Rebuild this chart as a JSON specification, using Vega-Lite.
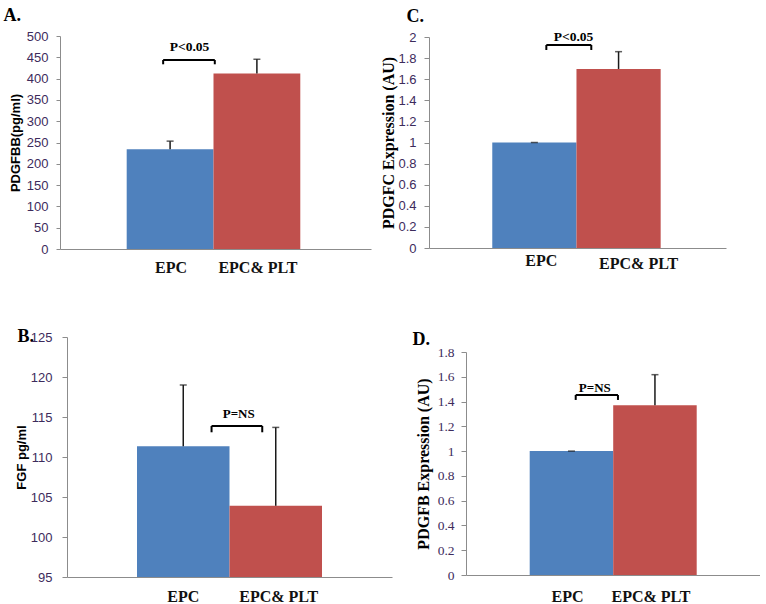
{
  "$schema": "https://vega.github.io/schema/vega-lite/v6.json",
  "background": "white",
  "padding": {"left": 3, "top": 6, "right": 0, "bottom": 0},
  "config": {"view": {"stroke": null}, "axis": {"grid": false, "labelOverlap": false}},
  "datasets": {
    "a": [{"group": "EPC", "value": 234.4, "upper": 253.2}, {"group": "EPC& PLT", "value": 411.9, "upper": 445.4}],
    "aBr": [{"from": "EPC", "to": "EPC& PLT", "y": 443.7, "y0": 433.6, "ty": 465.5, "label": "P<0.05"}],
    "c": [{"group": "EPC", "value": 1.0, "upper": 1.0}, {"group": "EPC& PLT", "value": 1.697, "upper": 1.861}],
    "cBr": [{"from": "EPC", "to": "EPC& PLT", "y": 1.924, "y0": 1.877, "ty": 1.965, "label": "P<0.05"}],
    "b": [{"group": "EPC", "value": 111.34, "upper": 119.0}, {"group": "EPC& PLT", "value": 103.9, "upper": 113.7}],
    "bBr": [{"from": "EPC", "to": "EPC& PLT", "y": 113.88, "y0": 113.09, "ty": 114.91, "label": "P=NS"}],
    "d": [{"group": "EPC", "value": 1.0, "upper": 1.0}, {"group": "EPC& PLT", "value": 1.37, "upper": 1.617}],
    "dBr": [{"from": "EPC", "to": "EPC& PLT", "y": 1.453, "y0": 1.413, "ty": 1.48, "label": "P=NS"}]
  },
  "vconcat": [
    {
      "hconcat": [
        {
          "width": 304, "height": 213,
          "layer": [
            {
              "data": {"name": "a"},
              "mark": {"type": "bar"},
              "encoding": {
                "x": {"field": "group", "type": "nominal",
                  "scale": {"domain": ["EPC", "EPC& PLT"], "range": [-7, 304], "paddingInner": 0, "paddingOuter": 0.7915, "align": 0.4854},
                  "axis": {"title": "A.", "titleX": -64, "titleY": -229, "titleAlign": "left", "titleBaseline": "alphabetic", "titleFont": "Liberation Serif", "titleFontSize": 18, "titleFontWeight": "bold", "titleColor": "#000",
                    "labelAngle": 0, "labelFont": "Liberation Serif", "labelFontSize": 16, "labelFontWeight": "bold", "labelColor": "#111", "labelPadding": 10, "labelOffset": 1, "labelOverlap": false,
                    "ticks": false, "tickSize": 0, "domainColor": "#8c8c8c", "domainWidth": 1}},
                "y": {"field": "value", "type": "quantitative",
                  "scale": {"domain": [0, 500], "nice": false},
                  "axis": {"title": "PDGFBB(pg/ml)", "offset": 7, "titleFont": "Liberation Sans", "titleFontSize": 13, "titleFontWeight": "bold", "titleColor": "#000", "titlePadding": 4, "minExtent": 34, "maxExtent": 34,
                    "values": [0, 50, 100, 150, 200, 250, 300, 350, 400, 450, 500], "tickCount": 20, "labelOverlap": false,
                    "labelFont": "Liberation Sans", "labelFontSize": 13, "labelColor": "#3d2b5c", "labelPadding": 8, "tickSize": 4, "tickColor": "#8c8c8c", "domainColor": "#8c8c8c"}},
                "color": {"field": "group", "type": "nominal", "scale": {"domain": ["EPC", "EPC& PLT"], "range": ["#4F81BD", "#C0504D"]}, "legend": null}
              }
            },
            {
              "data": {"name": "a"},
              "mark": {"type": "rule", "color": "#1a1a1a", "strokeWidth": 1.5},
              "encoding": {"x": {"field": "group", "type": "nominal"}, "y": {"field": "value", "type": "quantitative"}, "y2": {"field": "upper"}}
            },
            {
              "data": {"name": "a"},
              "mark": {"type": "tick", "color": "#1a1a1a", "size": 7, "thickness": 1.5},
              "encoding": {"x": {"field": "group", "type": "nominal"}, "y": {"field": "upper", "type": "quantitative"}}
            },
            {
              "data": {"name": "aBr"},
              "mark": {"type": "rule", "color": "#000", "strokeWidth": 2},
              "encoding": {"x": {"field": "from", "type": "nominal", "bandPosition": 0.42}, "x2": {"field": "to", "bandPosition": 0.015}, "y": {"field": "y", "type": "quantitative"}}
            },
            {
              "data": {"name": "aBr"},
              "mark": {"type": "rule", "color": "#000", "strokeWidth": 2},
              "encoding": {"x": {"field": "from", "type": "nominal", "bandPosition": 0.42}, "y": {"field": "y0", "type": "quantitative"}, "y2": {"field": "y"}}
            },
            {
              "data": {"name": "aBr"},
              "mark": {"type": "rule", "color": "#000", "strokeWidth": 2},
              "encoding": {"x": {"field": "to", "type": "nominal", "bandPosition": 0.015}, "y": {"field": "y0", "type": "quantitative"}, "y2": {"field": "y"}}
            },
            {
              "data": {"name": "aBr"},
              "mark": {"type": "text", "font": "Liberation Serif", "fontSize": 13.5, "fontWeight": "bold", "color": "#000", "baseline": "alphabetic", "align": "center"},
              "encoding": {"x": {"field": "from", "type": "nominal", "bandPosition": 0.724}, "y": {"field": "ty", "type": "quantitative"}, "text": {"field": "label"}}
            }
          ]
        },
        {
          "width": 297, "height": 212,
          "layer": [
            {
              "data": {"name": "c"},
              "mark": {"type": "bar"},
              "encoding": {
                "x": {"field": "group", "type": "nominal",
                  "scale": {"domain": ["EPC", "EPC& PLT"], "paddingInner": 0, "paddingOuter": 0.7637, "align": 0.492},
                  "axis": {"title": "C.", "titleX": -23, "titleY": -226.3, "titleAlign": "left", "titleBaseline": "alphabetic", "titleFont": "Liberation Serif", "titleFontSize": 18, "titleFontWeight": "bold", "titleColor": "#000",
                    "labelAngle": 0, "labelFont": "Liberation Serif", "labelFontSize": 16, "labelFontWeight": "bold", "labelColor": "#111",
                    "labelPadding": {"condition": {"test": "datum.value == 'EPC'", "value": 4}, "value": 7},
                    "labelOffset": {"condition": {"test": "datum.value == 'EPC'", "value": 7}, "value": 20},
                    "labelOverlap": false,
                    "ticks": false, "tickSize": 0, "domainColor": "#8c8c8c", "domainWidth": 1}},
                "y": {"field": "value", "type": "quantitative",
                  "scale": {"domain": [0, 2], "nice": false, "range": [212, 1]},
                  "axis": {"title": "PDGFC  Expression (AU)", "titleFont": "Liberation Serif", "titleFontSize": 16, "titleFontWeight": "bold", "titleColor": "#000", "titlePadding": 2, "minExtent": 31, "maxExtent": 31,
                    "values": [0, 0.2, 0.4, 0.6, 0.8, 1, 1.2, 1.4, 1.6, 1.8, 2], "tickCount": 20, "format": "~g", "labelOverlap": false,
                    "labelFont": "Liberation Sans", "labelFontSize": 13, "labelColor": "#3d2b5c", "labelPadding": 8, "tickSize": 5, "tickColor": "#8c8c8c", "domainColor": "#8c8c8c"}},
                "color": {"field": "group", "type": "nominal", "scale": {"domain": ["EPC", "EPC& PLT"], "range": ["#4F81BD", "#C0504D"]}, "legend": null}
              }
            },
            {
              "data": {"name": "c"},
              "mark": {"type": "rule", "color": "#1a1a1a", "strokeWidth": 1.5},
              "encoding": {"x": {"field": "group", "type": "nominal"}, "y": {"field": "value", "type": "quantitative"}, "y2": {"field": "upper"}}
            },
            {
              "data": {"name": "c"},
              "mark": {"type": "tick", "color": "#1a1a1a", "size": 7, "thickness": 1.5},
              "encoding": {"x": {"field": "group", "type": "nominal"}, "y": {"field": "upper", "type": "quantitative"}}
            },
            {
              "data": {"name": "cBr"},
              "mark": {"type": "rule", "color": "#000", "strokeWidth": 2},
              "encoding": {"x": {"field": "from", "type": "nominal", "bandPosition": 0.642}, "x2": {"field": "to", "bandPosition": 0.176}, "y": {"field": "y", "type": "quantitative"}}
            },
            {
              "data": {"name": "cBr"},
              "mark": {"type": "rule", "color": "#000", "strokeWidth": 2},
              "encoding": {"x": {"field": "from", "type": "nominal", "bandPosition": 0.642}, "y": {"field": "y0", "type": "quantitative"}, "y2": {"field": "y"}}
            },
            {
              "data": {"name": "cBr"},
              "mark": {"type": "rule", "color": "#000", "strokeWidth": 2},
              "encoding": {"x": {"field": "to", "type": "nominal", "bandPosition": 0.176}, "y": {"field": "y0", "type": "quantitative"}, "y2": {"field": "y"}}
            },
            {
              "data": {"name": "cBr"},
              "mark": {"type": "text", "font": "Liberation Serif", "fontSize": 13.5, "fontWeight": "bold", "color": "#000", "baseline": "alphabetic", "align": "center"},
              "encoding": {"x": {"field": "from", "type": "nominal", "bandPosition": 0.965}, "y": {"field": "ty", "type": "quantitative"}, "text": {"field": "label"}}
            }
          ]
        }
      ],
      "spacing": 2
    },
    {
      "hconcat": [
        {
          "width": 325, "height": 240,
          "layer": [
            {
              "data": {"name": "b"},
              "mark": {"type": "bar"},
              "encoding": {
                "x": {"field": "group", "type": "nominal",
                  "scale": {"domain": ["EPC", "EPC& PLT"], "paddingInner": 0, "paddingOuter": 0.7568, "align": 0.5},
                  "axis": {"title": "B.", "titleX": -50, "titleY": -236, "titleAlign": "left", "titleBaseline": "alphabetic", "titleFont": "Liberation Serif", "titleFontSize": 18, "titleFontWeight": "bold", "titleColor": "#000",
                    "labelAngle": 0, "labelFont": "Liberation Serif", "labelFontSize": 16, "labelFontWeight": "bold", "labelColor": "#111", "labelPadding": 11,
                    "labelOffset": {"condition": {"test": "datum.value == 'EPC'", "value": 0}, "value": 3},
                    "labelOverlap": false,
                    "ticks": false, "tickSize": 0, "domainColor": "#8c8c8c", "domainWidth": 1}},
                "y": {"field": "value", "type": "quantitative",
                  "scale": {"domain": [95, 125], "nice": false, "zero": false},
                  "axis": {"title": "FGF pg/ml", "titleFont": "Liberation Sans", "titleFontSize": 13, "titleFontWeight": "bold", "titleColor": "#000", "titlePadding": 3, "minExtent": 36, "maxExtent": 36,
                    "values": [95, 100, 105, 110, 115, 120, 125], "tickCount": 20, "labelOverlap": false,
                    "labelFont": "Liberation Sans", "labelFontSize": 13, "labelColor": "#3d2b5c", "labelPadding": 10, "tickSize": 5, "tickColor": "#8c8c8c", "domainColor": "#8c8c8c"}},
                "y2": {"datum": 95},
                "color": {"field": "group", "type": "nominal", "scale": {"domain": ["EPC", "EPC& PLT"], "range": ["#4F81BD", "#C0504D"]}, "legend": null}
              }
            },
            {
              "data": {"name": "b"},
              "mark": {"type": "rule", "color": "#1a1a1a", "strokeWidth": 1.5},
              "encoding": {"x": {"field": "group", "type": "nominal"}, "y": {"field": "value", "type": "quantitative"}, "y2": {"field": "upper"}}
            },
            {
              "data": {"name": "b"},
              "mark": {"type": "tick", "color": "#1a1a1a", "size": 7, "thickness": 1.5},
              "encoding": {"x": {"field": "group", "type": "nominal"}, "y": {"field": "upper", "type": "quantitative"}}
            },
            {
              "data": {"name": "bBr"},
              "mark": {"type": "rule", "color": "#000", "strokeWidth": 2},
              "encoding": {"x": {"field": "from", "type": "nominal", "bandPosition": 0.806}, "x2": {"field": "to", "bandPosition": 0.354}, "y": {"field": "y", "type": "quantitative"}}
            },
            {
              "data": {"name": "bBr"},
              "mark": {"type": "rule", "color": "#000", "strokeWidth": 2},
              "encoding": {"x": {"field": "from", "type": "nominal", "bandPosition": 0.806}, "y": {"field": "y0", "type": "quantitative"}, "y2": {"field": "y"}}
            },
            {
              "data": {"name": "bBr"},
              "mark": {"type": "rule", "color": "#000", "strokeWidth": 2},
              "encoding": {"x": {"field": "to", "type": "nominal", "bandPosition": 0.354}, "y": {"field": "y0", "type": "quantitative"}, "y2": {"field": "y"}}
            },
            {
              "data": {"name": "bBr"},
              "mark": {"type": "text", "font": "Liberation Serif", "fontSize": 13, "fontWeight": "bold", "color": "#000", "baseline": "alphabetic", "align": "center"},
              "encoding": {"x": {"field": "to", "type": "nominal", "bandPosition": 0.1}, "y": {"field": "ty", "type": "quantitative"}, "text": {"field": "label"}}
            }
          ]
        },
        {
          "width": 294, "height": 238,
          "layer": [
            {
              "data": {"name": "d"},
              "mark": {"type": "bar"},
              "encoding": {
                "x": {"field": "group", "type": "nominal",
                  "scale": {"domain": ["EPC", "EPC& PLT"], "paddingInner": 0, "paddingOuter": 0.7605, "align": 0.5016},
                  "axis": {"title": "D.", "titleX": -54, "titleY": -231, "titleAlign": "left", "titleBaseline": "alphabetic", "titleFont": "Liberation Serif", "titleFontSize": 18, "titleFontWeight": "bold", "titleColor": "#000",
                    "labelAngle": 0, "labelFont": "Liberation Serif", "labelFontSize": 16, "labelFontWeight": "bold", "labelColor": "#111", "labelPadding": 13, "labelOffset": -4, "labelOverlap": false,
                    "ticks": false, "tickSize": 0, "domainColor": "#8c8c8c", "domainWidth": 1}},
                "y": {"field": "value", "type": "quantitative",
                  "scale": {"domain": [0, 1.8], "nice": false, "range": [238, 15]},
                  "axis": {"title": "PDGFB Expression (AU)", "titleY": 126.5, "titleFont": "Liberation Serif", "titleFontSize": 16, "titleFontWeight": "bold", "titleColor": "#000", "titlePadding": 6, "minExtent": 29, "maxExtent": 29,
                    "values": [0, 0.2, 0.4, 0.6, 0.8, 1, 1.2, 1.4, 1.6, 1.8], "tickCount": 20, "format": "~g", "labelOverlap": false,
                    "labelFont": "Liberation Serif", "labelFontSize": 13.5, "labelColor": "#3d2b5c", "labelPadding": 7, "tickSize": 5, "tickColor": "#8c8c8c", "domainColor": "#8c8c8c"}},
                "color": {"field": "group", "type": "nominal", "scale": {"domain": ["EPC", "EPC& PLT"], "range": ["#4F81BD", "#C0504D"]}, "legend": null}
              }
            },
            {
              "data": {"name": "d"},
              "mark": {"type": "rule", "color": "#1a1a1a", "strokeWidth": 1.5},
              "encoding": {"x": {"field": "group", "type": "nominal"}, "y": {"field": "value", "type": "quantitative"}, "y2": {"field": "upper"}}
            },
            {
              "data": {"name": "d"},
              "mark": {"type": "tick", "color": "#1a1a1a", "size": 7, "thickness": 1.5},
              "encoding": {"x": {"field": "group", "type": "nominal"}, "y": {"field": "upper", "type": "quantitative"}}
            },
            {
              "data": {"name": "dBr"},
              "mark": {"type": "rule", "color": "#000", "strokeWidth": 2},
              "encoding": {"x": {"field": "from", "type": "nominal", "bandPosition": 0.551}, "x2": {"field": "to", "bandPosition": 0.057}, "y": {"field": "y", "type": "quantitative"}}
            },
            {
              "data": {"name": "dBr"},
              "mark": {"type": "rule", "color": "#000", "strokeWidth": 2},
              "encoding": {"x": {"field": "from", "type": "nominal", "bandPosition": 0.551}, "y": {"field": "y0", "type": "quantitative"}, "y2": {"field": "y"}}
            },
            {
              "data": {"name": "dBr"},
              "mark": {"type": "rule", "color": "#000", "strokeWidth": 2},
              "encoding": {"x": {"field": "to", "type": "nominal", "bandPosition": 0.057}, "y": {"field": "y0", "type": "quantitative"}, "y2": {"field": "y"}}
            },
            {
              "data": {"name": "dBr"},
              "mark": {"type": "text", "font": "Liberation Serif", "fontSize": 13, "fontWeight": "bold", "color": "#000", "baseline": "alphabetic", "align": "center"},
              "encoding": {"x": {"field": "from", "type": "nominal", "bandPosition": 0.78}, "y": {"field": "ty", "type": "quantitative"}, "text": {"field": "label"}}
            }
          ]
        }
      ],
      "spacing": 20
    }
  ],
  "spacing": 52
}
